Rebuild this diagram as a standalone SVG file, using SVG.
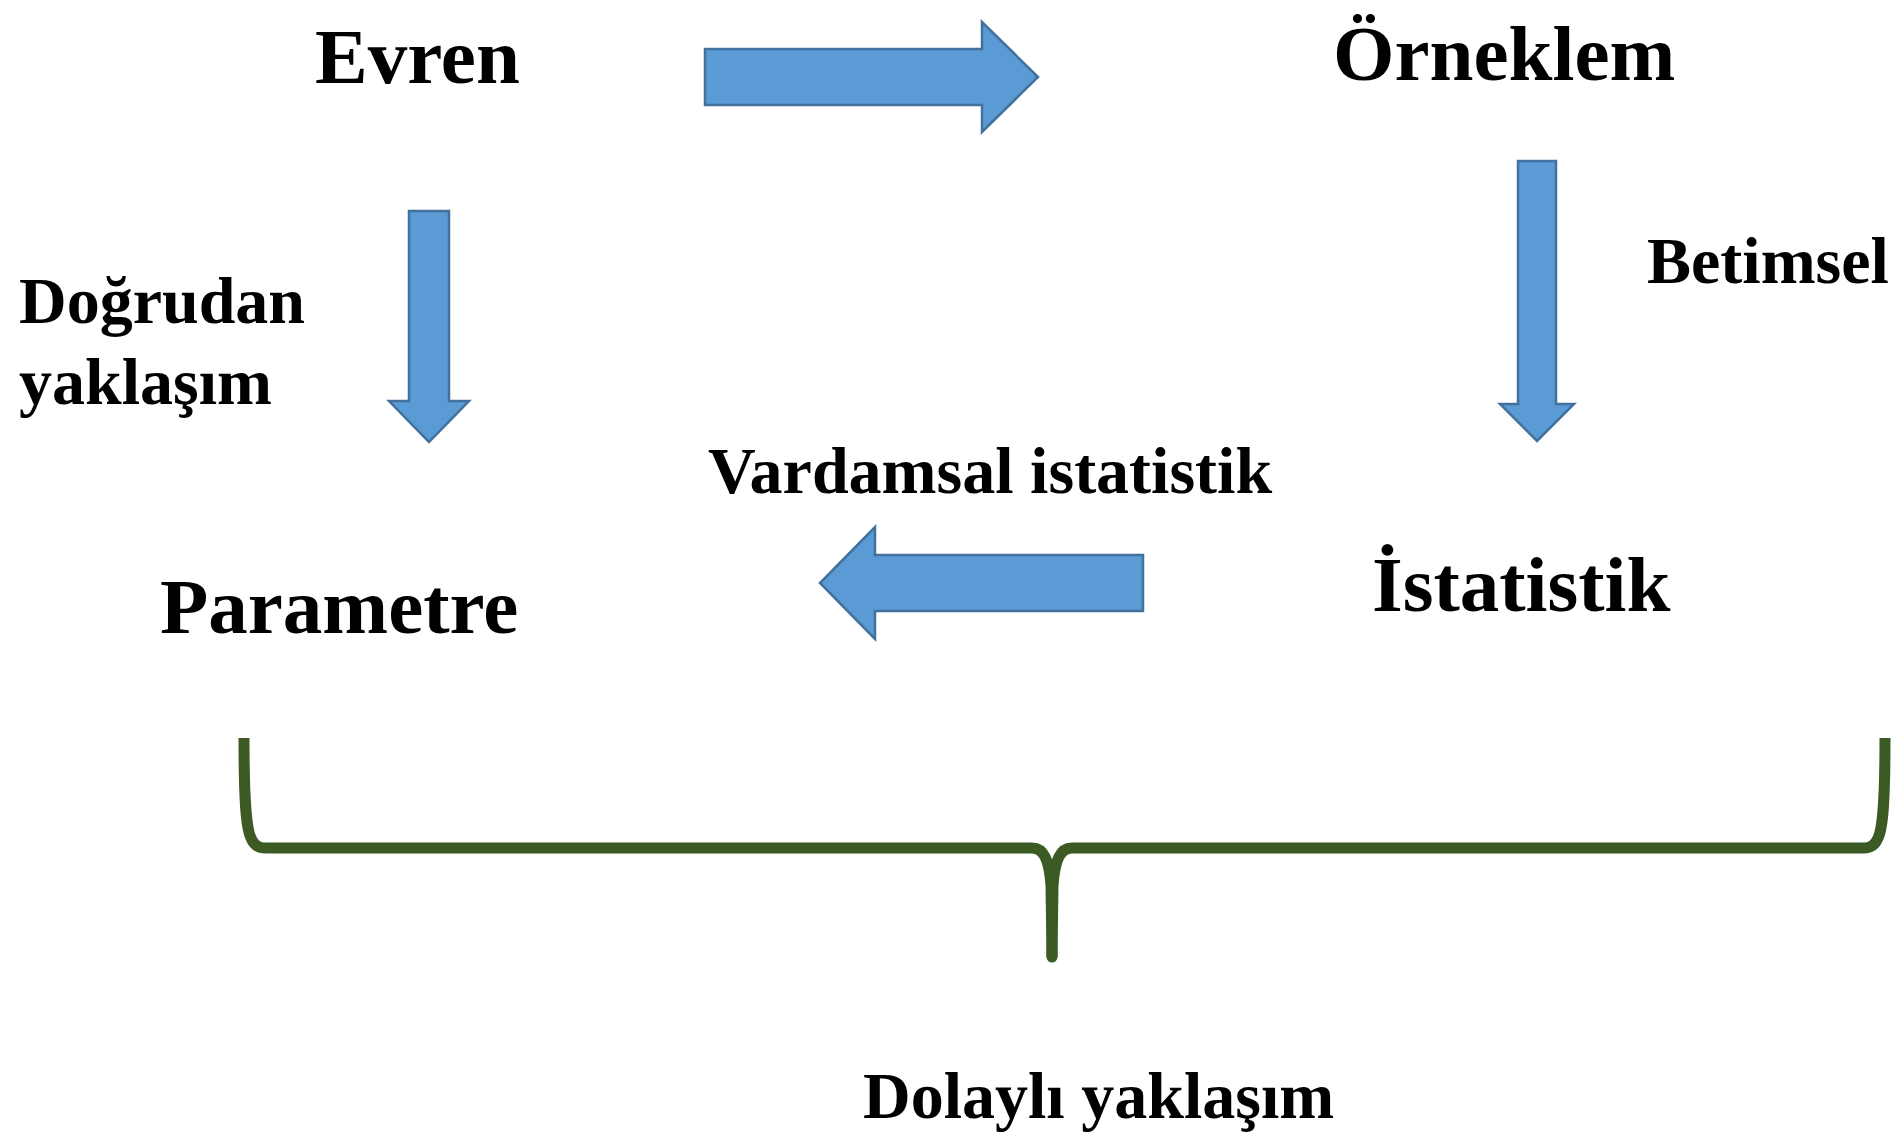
<svg xmlns="http://www.w3.org/2000/svg" width="1893" height="1135" viewBox="0 0 1893 1135">
<style>
  .big { font-family: "Liberation Serif", "Times New Roman", serif; font-weight: bold; font-size: 79px; fill: #000; }
  .mid { font-family: "Liberation Serif", "Times New Roman", serif; font-weight: bold; font-size: 66px; fill: #000; }
  .arrow { fill: #5B9BD5; stroke: #41719C; stroke-width: 2.5; stroke-linejoin: miter; }
  .brace { fill: none; stroke: #3B5A24; stroke-width: 11; stroke-linejoin: round; }
</style>
<rect x="0" y="0" width="1893" height="1135" fill="#ffffff"/>
<g id="node-evren"><text class="big" x="315" y="83">Evren</text></g>
<g id="node-orneklem"><text class="big" x="1333" y="80">Örneklem</text></g>
<g id="node-parametre"><text class="big" x="160" y="633">Parametre</text></g>
<g id="node-istatistik"><text class="big" x="1372" y="611">İstatistik</text></g>
<g id="label-dogrudan">
  <text class="mid" x="19" y="323">Doğrudan</text>
  <text class="mid" x="19" y="404">yaklaşım</text>
</g>
<g id="label-betimsel"><text class="mid" x="1647" y="283">Betimsel</text></g>
<g id="label-vardamsal"><text class="mid" x="708" y="493" font-size="65">Vardamsal istatistik</text></g>
<g id="label-dolayli"><text class="mid" x="863" y="1118">Dolaylı yaklaşım</text></g>
<g id="connectors">
  <polygon class="arrow" points="705,49 982,49 982,22 1038,77 982,132 982,105 705,105"/>
  <polygon class="arrow" points="409,211 449,211 449,401 469,401 429,442 389,401 409,401"/>
  <polygon class="arrow" points="1518,161 1556,161 1556,404 1574,404 1537,441 1500,404 1518,404"/>
  <polygon class="arrow" points="1143,555 875,555 875,527 820,583 875,639 875,611 1143,611"/>
  <path class="brace" d="M244,738 C244,800 246,828 251,838 Q255,848 265,848 L1032,848 C1044,848 1049,860 1051,885 L1052,957"/>
  <path class="brace" d="M1885,738 C1885,800 1883,828 1878,838 Q1874,848 1864,848 L1072,848 C1060,848 1055,860 1053,885 L1052,957"/>
  <circle cx="1052" cy="957" r="5.5" fill="#3B5A24"/>
</g>
</svg>
